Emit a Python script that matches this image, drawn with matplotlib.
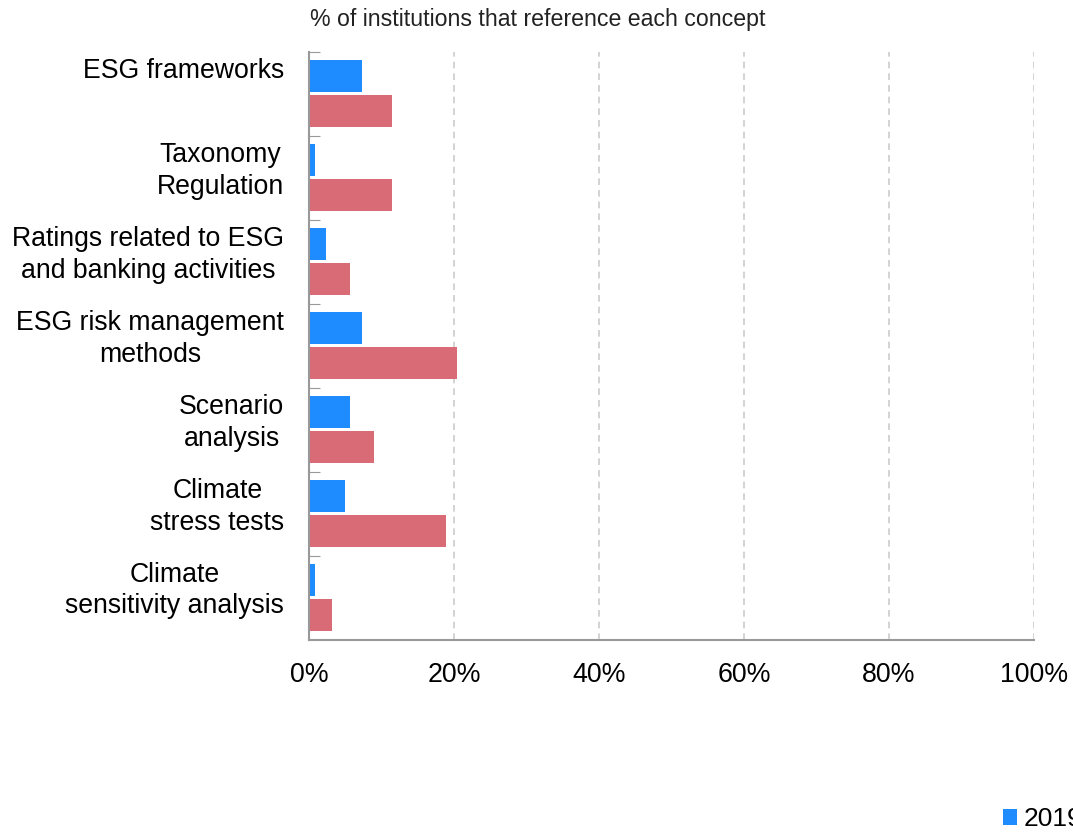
import numpy as np
import matplotlib.pyplot as plt
from matplotlib.transforms import blended_transform_factory

plt.rcParams['font.family'] = ['Liberation Sans', 'DejaVu Sans']

categories = ["ESG frameworks", "Taxonomy\nRegulation", "Ratings related to ESG\nand banking activities",
              "ESG risk management\nmethods", "Scenario\nanalysis", "Climate\nstress tests",
              "Climate\nsensitivity analysis"]
pct_2019 = [7.3, 0.8, 2.4, 7.3, 5.7, 4.9, 0.8]
pct_2020 = [11.4, 11.4, 5.7, 20.4, 9.0, 18.9, 3.2]
xticks = [0, 20, 40, 60, 80, 100]
xtick_labels = ["0%", "20%", "40%", "60%", "80%", "100%"]

blue = "#1e8cff"
red = "#d96b77"

fig = plt.figure(figsize=(10.73, 8.32), dpi=100)
ax = fig.add_axes([0.288, 0.231, 0.6757, 0.7065])

y = np.arange(len(categories))
ax.barh(y + 0.286, pct_2019, height=0.38, color=blue, label="2019")
ax.barh(y + 0.702, pct_2020, height=0.38, color=red, label="2020")

ax.set_xlim(0, 100)
ax.set_ylim(len(categories), 0)
ax.set_xticks(xticks)
ax.set_xticklabels(xtick_labels, fontsize=19.3)
ax.tick_params(axis='x', length=0, pad=16)
ax.set_yticks(y)
ax.set_yticklabels([])
ax.tick_params(axis='y', direction='in', length=8, color='#999999')

ax.grid(axis='x', linestyle=(0, (4, 3)), color='#cccccc', linewidth=1.2)
ax.set_axisbelow(True)
for s in ['top', 'right']:
    ax.spines[s].set_visible(False)
for s in ['left', 'bottom']:
    ax.spines[s].set_color('#999999')
    ax.spines[s].set_linewidth(1.5)

# category labels, top-aligned to each band, centred lines
trans = blended_transform_factory(ax.transAxes, ax.transData)
for i, lab in enumerate(categories):
    ax.text(-0.034, i + 0.072, lab, transform=trans, ha='right', va='top',
            multialignment='center', fontsize=19.2, linespacing=1.28)

fig.text(0.289, 0.976, "% of institutions that reference each concept", fontsize=16.7,
         ha='left', va='center', color='#222222')

# legend sits partly outside the canvas, as in the original
fig.legend(loc='lower left', bbox_to_anchor=(0.925, -0.012), ncol=2, frameon=False,
           fontsize=19, handlelength=0.52, handleheight=0.52, handletextpad=0.25,
           borderaxespad=0)

fig.savefig("out.png", dpi=100)
